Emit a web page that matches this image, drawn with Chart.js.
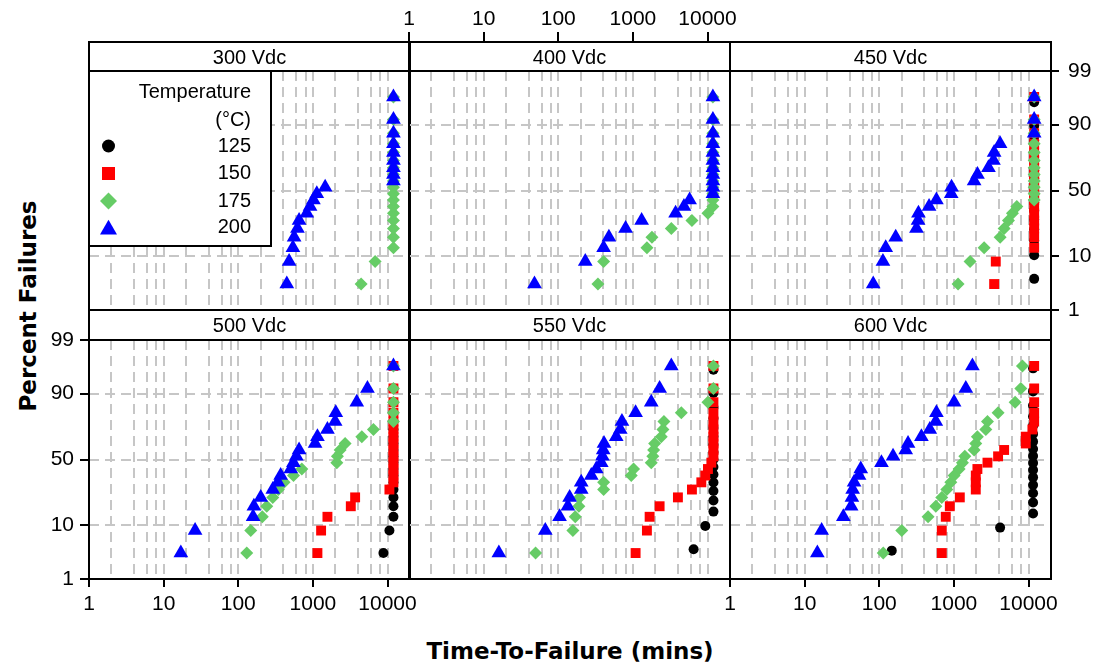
<!DOCTYPE html>
<html><head><meta charset="utf-8">
<script src="https://cdn.jsdelivr.net/npm/chart.js@4.4.1/dist/chart.umd.min.js"></script>
<style>
html,body{margin:0;padding:0;background:#fff;}
body{width:1095px;height:666px;position:relative;overflow:hidden;}
canvas{position:absolute;}
.ttl{position:absolute;font-family:'DejaVu Sans',Verdana,sans-serif;font-weight:bold;font-size:23px;white-space:nowrap;color:#000;transform-origin:center center;}
#xt{left:570px;top:651px;transform:translate(-50%,-50%);}
#yt{left:28px;top:306px;transform:translate(-50%,-50%) rotate(-90deg);}
</style></head><body>
<div class="ttl" id="xt">Time-To-Failure (mins)</div>
<div class="ttl" id="yt">Percent Failures</div>
<script>
// ---------- data ----------
const voltages = ['300 Vdc', '400 Vdc', '450 Vdc', '500 Vdc', '550 Vdc', '600 Vdc'];
const temps = [125, 150, 175, 200];
const xTicks = [1, 10, 100, 1000, 10000];
const xGridVals = [1, 2, 4, 6, 8, 10, 20, 40, 60, 80, 100, 200, 400, 600, 800, 1000, 2000, 4000, 6000, 8000, 10000];
const yTicks = [1, 10, 50, 90, 99];
const xMin = 1, xMax = 20000, yMin = 1, yMax = 99;

// percent failures (plotting positions)
const pct20 = [3.43, 8.33, 13.24, 18.14, 23.04, 27.94, 32.84, 37.75, 42.65, 47.55,
               52.45, 57.35, 62.25, 67.16, 72.06, 76.96, 81.86, 86.76, 91.67, 96.57];
const pct16 = [4.27, 10.37, 16.46, 22.56, 28.66, 34.76, 40.85, 46.95,
               53.05, 59.15, 65.24, 71.34, 77.44, 83.54, 89.63, 95.73];
const pct17 = [4.02, 9.77, 15.52, 21.26, 27.01, 32.76, 38.51, 44.25, 50.00,
               55.75, 61.49, 67.24, 72.99, 78.74, 84.48, 90.23, 95.98];
const pct18 = [3.80, 9.24, 14.67, 20.11, 25.54, 30.98, 36.41, 41.85, 47.28,
               52.72, 58.15, 63.59, 69.02, 74.46, 79.89, 85.33, 90.76, 96.20];

// times to failure (mins)
const t300_175 = [4430, 6820, 12000, 12000, 12000, 12000, 12000, 12000, 12000, 12000,
                  12000, 12000, 12000, 12000, 12000, 12000, 12000, 12000, 12000, 12000];
const t300_200 = [447, 480, 540, 560, 621, 653, 828, 917, 1016, 1128,
                  1459, 12000, 12000, 12000, 12000, 12000, 12000, 12000, 12000, 12000];
const t400_175 = [340, 405, 1541, 1800, 3270, 6180, 10130, 11800, 11800, 11800,
                  11800, 11800, 11800, 11800, 11800, 11800, 11800, 11800, 11800, 11800];
const t400_200 = [48, 230, 405, 477, 798, 1309, 3733, 4830, 5750, 11800,
                  11800, 11800, 11800, 11800, 11800, 11800, 11800, 11800, 11800, 11800];
const t450_125 = [11900, 11900, 11900, 11900, 11900, 11900, 11900, 11900,
                  11900, 11900, 11900, 11900, 11900, 11900, 11900, 11900];
const t450_150 = [3460, 3640, 11900, 11900, 11900, 11900, 11900, 11900, 11900, 11900,
                  11900, 11900, 11900, 11900, 11900, 11900, 11900, 11900, 11900, 11900];
const t450_175 = [1138, 1648, 2540, 4160, 4710, 5380, 6090, 6970, 11900, 11900,
                  11900, 11900, 11900, 11900, 11900, 11900, 11900, 11900, 11900, 11900];
const t450_200 = [83, 112, 122, 166, 315, 331, 335, 465, 583, 920,
                  930, 1866, 2070, 2906, 3390, 3460, 4160, 11900, 11900, 11900];
const t500_125 = [8810, 10600, 12000, 12000, 12000, 12000, 12000, 12000, 12000, 12000,
                  12000, 12000, 12000, 12000, 12000, 12000, 12000, 12000, 12000, 12000];
const t500_150 = [1150, 1288, 1566, 3220, 3680, 10600, 12000, 12000, 12000, 12000,
                  12000, 12000, 12000, 12000, 12000, 12000, 12000, 12000, 12000, 12000];
const t500_175 = [130, 147, 210, 241, 290, 345, 411, 550, 710, 2090,
                  2130, 2316, 2700, 4520, 6470, 12000, 12000, 12000, 12000, 12000];
const t500_200 = [17, 26.4, 158, 162, 200, 290, 340, 370, 505, 548,
                  600, 653, 1070, 1150, 1566, 1985, 2027, 3870, 5380, 12000];
const t550_125 = [6510, 9330, 12000, 12000, 12000, 12000, 12000, 12000, 12000,
                  12000, 12000, 12000, 12000, 12000, 12000, 12000, 12000];
const t550_150 = [1087, 1541, 1675, 2280, 4010, 6180, 8260, 9330, 10130, 11250,
                  12000, 12000, 12000, 12000, 12000, 12000, 12000, 12000, 12000, 12000];
const t550_175 = [49.6, 157, 169, 189, 193, 405, 405, 951, 1021, 1762,
                  1850, 1894, 1955, 2400, 2525, 2605, 4450, 10130, 12000, 12000];
const t550_200 = [16, 67, 104, 134.6, 142, 203, 203, 277, 323, 377,
                  390, 400, 410, 598, 677, 713, 1087, 1762, 2280, 3270];
const t600_125 = [147, 4160, 11500, 11500, 11500, 11500, 11500, 11500, 11500,
                  11500, 11500, 11500, 11500, 11500, 11500, 11500, 11500, 11500];
const t600_150 = [688, 688, 778, 881, 1200, 1964, 1964, 1964, 2065, 2817,
                  3910, 4710, 9180, 9180, 11270, 11900, 11900, 11900, 11900, 11900];
const t600_175 = [113, 200, 451, 572, 688, 804, 910, 1006, 1175, 1302,
                  1400, 1866, 1964, 2065, 2675, 2817, 3910, 6610, 7880, 8280];
const t600_200 = [14.8, 16.9, 33, 42, 43, 44, 46, 53.6, 56.5, 107,
                  153, 226, 243, 367, 475, 572, 583, 1006, 1444, 1770];

// per panel: [times, percents] for 125,150,175,200
const panelData = [
  [[[], []], [[], []], [t300_175, pct20], [t300_200, pct20]],
  [[[], []], [[], []], [t400_175, pct20], [t400_200, pct20]],
  [[t450_125, pct16], [t450_150, pct20], [t450_175, pct20], [t450_200, pct20]],
  [[t500_125, pct20], [t500_150, pct20], [t500_175, pct20], [t500_200, pct20]],
  [[t550_125, pct17], [t550_150, pct20], [t550_175, pct20], [t550_200, pct20]],
  [[t600_125, pct18], [t600_150, pct20], [t600_175, pct20], [t600_200, pct20]]
];

// ---------- styles / layout ----------
const COLORS = ['#000000', '#ff0000', '#66cc66', '#0000ff'];
const SHAPES = ['circle', 'rect', 'rectRot', 'triangle'];
const RADII = [5, 7, 6.5, 8.5];
const GRID = '#c6c6c6';
const FONT = "'Liberation Sans', Arial, sans-serif";
const PAD = {left: 60, right: 60, top: 45, bottom: 45};
const AX = {left: 45, right: 45, top: 40, bottom: 40};
const colLeft = [89, 409, 730];
const PW = 321, PH = 239;
const rowStrip = [42, 310], stripH = [29, 30];
const stripPad = [{top: 4, bottom: 1}, {top: 4, bottom: 2}];

// ---------- probability (normal) scale ----------
function probit(p) {
  const a=[-3.969683028665376e+01,2.209460984245205e+02,-2.759285104469687e+02,1.383577518672690e+02,-3.066479806614716e+01,2.506628277459239e+00];
  const b=[-5.447609879822406e+01,1.615858368580409e+02,-1.556989798598866e+02,6.680131188771972e+01,-1.328068155288572e+01];
  const c=[-7.784894002430293e-03,-3.223964580411365e-01,-2.400758277161838e+00,-2.549671010366366e+00,4.374664141464968e+00,2.938163982698783e+00];
  const d=[7.784695709041462e-03,3.224671290700398e-01,2.445134137142996e+00,3.754408661907416e+00];
  const pl = 0.02425, ph = 1 - pl;
  let q, r;
  if (p < pl) { q = Math.sqrt(-2*Math.log(p)); return (((((c[0]*q+c[1])*q+c[2])*q+c[3])*q+c[4])*q+c[5])/((((d[0]*q+d[1])*q+d[2])*q+d[3])*q+1); }
  if (p <= ph) { q = p - 0.5; r = q*q; return (((((a[0]*r+a[1])*r+a[2])*r+a[3])*r+a[4])*r+a[5])*q/(((((b[0]*r+b[1])*r+b[2])*r+b[3])*r+b[4])*r+1); }
  q = Math.sqrt(-2*Math.log(1-p)); return -(((((c[0]*q+c[1])*q+c[2])*q+c[3])*q+c[4])*q+c[5])/((((d[0]*q+d[1])*q+d[2])*q+d[3])*q+1);
}
function normCdf(z) {
  const t = 1/(1+0.2316419*Math.abs(z));
  const y = 0.3989423*Math.exp(-z*z/2)*t*(0.3193815+t*(-0.3565638+t*(1.781478+t*(-1.821256+t*1.330274))));
  return z > 0 ? 1 - y : y;
}
class ProbitScale extends Chart.Scale {
  static id = 'probit';
  static defaults = {};
  determineDataLimits() { this.min = this.options.min; this.max = this.options.max; }
  buildTicks() { return yTicks.map(v => ({value: v})); }
  getLabelForValue(v) { return String(v); }
  configure() { super.configure(); this._z0 = probit(this.min/100); this._z1 = probit(this.max/100); }
  getPixelForValue(v) { return this.getPixelForDecimal((probit(v/100) - this._z0)/(this._z1 - this._z0)); }
  getValueForPixel(px) { const dd = this.getDecimalForPixel(px); return 100*normCdf(this._z0 + dd*(this._z1 - this._z0)); }
}
Chart.register(ProbitScale);

// ---------- axes ----------
const tickFont = {family: FONT, size: 21};
function xAxis(show) {
  return {
    type: 'logarithmic', position: 'bottom', min: xMin, max: xMax,
    afterBuildTicks: s => { s.ticks = xGridVals.map(v => ({value: v})); },
    afterFit: s => { s.height = show ? AX.bottom : 0; },
    grid: {display: true, drawOnChartArea: true, lineWidth: 2,
      color: c => (c.tick && c.tick.value === 1) ? 'rgba(0,0,0,0)' : GRID,
      drawTicks: show, tickLength: 8, tickWidth: 2,
      tickColor: c => (c.tick && xTicks.includes(c.tick.value)) ? '#000' : 'rgba(0,0,0,0)'},
    border: {display: false, dash: [10, 6]},
    ticks: {display: show, autoSkip: false, maxRotation: 0, minRotation: 0, padding: 5,
      color: '#000', font: tickFont, callback: v => xTicks.includes(v) ? String(v) : ''}
  };
}
function xTopAxis() {
  return {
    type: 'logarithmic', position: 'top', weight: 5000, min: xMin, max: xMax,
    afterBuildTicks: s => { s.ticks = xTicks.map(v => ({value: v})); },
    afterFit: s => { s.height = AX.top; },
    grid: {display: true, drawOnChartArea: false, color: 'rgba(0,0,0,0)', lineWidth: 2,
      drawTicks: true, tickLength: 10, tickWidth: 2, tickColor: '#000'},
    border: {display: false},
    ticks: {display: true, autoSkip: false, maxRotation: 0, minRotation: 0, padding: 0,
      color: '#000', font: tickFont, callback: v => String(v)}
  };
}
function yAxis(position, show, drawGrid) {
  return {
    type: 'probit', position, min: yMin, max: yMax,
    afterFit: s => { s.width = show ? (position === 'left' ? AX.left : AX.right) : 0; },
    grid: {display: true, drawOnChartArea: drawGrid, lineWidth: 2,
      color: c => (c.tick && (c.tick.value === 1 || c.tick.value === 99)) ? 'rgba(0,0,0,0)' : GRID,
      drawTicks: show, tickLength: position === 'left' ? 9 : 8, tickWidth: 2, tickColor: '#000'},
    border: {display: false, dash: [10, 6]},
    ticks: {display: show, autoSkip: false, padding: position === 'left' ? 6 : 9,
      color: '#000', font: tickFont}
  };
}

// ---------- plugins ----------
const framePlugin = {
  id: 'frame',
  afterDraw(chart) {
    const ctx = chart.ctx, a = chart.chartArea, t = chart.titleBlock;
    ctx.save();
    ctx.strokeStyle = '#000'; ctx.lineWidth = 2;
    ctx.strokeRect(a.left, a.top, a.right - a.left, a.bottom - a.top);
    if (t) ctx.strokeRect(t.left, t.top, t.width, t.height);
    ctx.restore();
  }
};
const legendPlugin = {
  id: 'tempLegend',
  afterDatasetsDraw(chart) {
    const ctx = chart.ctx, a = chart.chartArea;
    const L = a.left, T = a.top, W = 182, H = 175;
    ctx.save();
    ctx.fillStyle = '#fff'; ctx.fillRect(L, T, W, H);
    ctx.strokeStyle = '#000'; ctx.lineWidth = 2; ctx.strokeRect(L, T, W, H);
    ctx.fillStyle = '#000';
    ctx.font = "20px " + FONT;
    ctx.textAlign = 'right'; ctx.textBaseline = 'middle';
    const tx = L + 162;
    ctx.fillText('Temperature', tx, T + 21);
    ctx.fillText('(\u00B0C)', tx, T + 49);
    const rows = [75, 102.5, 130, 156];
    const mx = L + 19.5;
    temps.forEach((tp, i) => {
      const y = T + rows[i];
      ctx.fillStyle = COLORS[i];
      ctx.beginPath();
      if (i === 0) { ctx.arc(mx, y, 6.5, 0, Math.PI*2); }
      else if (i === 1) { ctx.rect(mx - 6.5, y - 6.5, 13, 13); }
      else if (i === 2) { const r = 8.5; ctx.moveTo(mx - r, y); ctx.lineTo(mx, y - r); ctx.lineTo(mx + r, y); ctx.lineTo(mx, y + r); ctx.closePath(); }
      else { const r = 9.8, cy = y + 2.5; ctx.moveTo(mx, cy - r); ctx.lineTo(mx + r*0.866, cy + r/2); ctx.lineTo(mx - r*0.866, cy + r/2); ctx.closePath(); }
      ctx.fill();
      ctx.fillStyle = '#000';
      ctx.fillText(String(tp), tx, y);
    });
    ctx.restore();
  }
};

// ---------- panels ----------
const layoutCfg = [
  {col: 0, row: 0, bottom: false, left: false, top: false, right: false, legend: true},
  {col: 1, row: 0, bottom: false, left: false, top: true, right: false},
  {col: 2, row: 0, bottom: false, left: false, top: false, right: true},
  {col: 0, row: 1, bottom: true, left: true, top: false, right: false},
  {col: 1, row: 1, bottom: false, left: false, top: false, right: false},
  {col: 2, row: 1, bottom: true, left: false, top: false, right: false}
];

layoutCfg.forEach((p, k) => {
  const left = colLeft[p.col], sTop = rowStrip[p.row], sh = stripH[p.row];
  const cv = document.createElement('canvas');
  cv.width = PW + PAD.left + PAD.right;
  cv.height = sh + PH + PAD.top + PAD.bottom;
  cv.style.width = cv.width + 'px'; cv.style.height = cv.height + 'px';
  cv.style.left = (left - PAD.left) + 'px';
  cv.style.top = (sTop - PAD.top) + 'px';
  document.body.appendChild(cv);

  const datasets = temps.map((tp, i) => {
    const [times, pcts] = panelData[k][i];
    return {
      label: String(tp),
      data: times.map((t, j) => ({x: t, y: pcts[j]})),
      pointStyle: SHAPES[i], pointRadius: RADII[i], pointHoverRadius: RADII[i],
      pointBackgroundColor: COLORS[i], pointBorderWidth: 0, backgroundColor: COLORS[i],
      borderColor: COLORS[i], showLine: false, order: 4 - i
    };
  });
  const scales = {x: xAxis(p.bottom), y: yAxis('left', p.left, true)};
  if (p.top) scales.xt = xTopAxis();
  if (p.right) scales.yr = yAxis('right', true, false);

  const padding = {
    left: PAD.left - (p.left ? AX.left : 0),
    right: PAD.right - (p.right ? AX.right : 0),
    top: PAD.top - (p.top ? AX.top : 0),
    bottom: PAD.bottom - (p.bottom ? AX.bottom : 0)
  };

  new Chart(cv, {
    type: 'scatter',
    data: {datasets},
    options: {
      responsive: false, animation: false, events: [], devicePixelRatio: 1,
      layout: {padding},
      scales,
      plugins: {
        legend: {display: false}, tooltip: {enabled: false},
        title: {display: true, text: voltages[k], fullSize: false, position: 'top', align: 'center',
          color: '#000', font: {family: FONT, size: 20, weight: 'normal', lineHeight: 1.2},
          padding: stripPad[p.row]}
      }
    },
    plugins: p.legend ? [framePlugin, legendPlugin] : [framePlugin]
  });
});
</script>
</body></html>
